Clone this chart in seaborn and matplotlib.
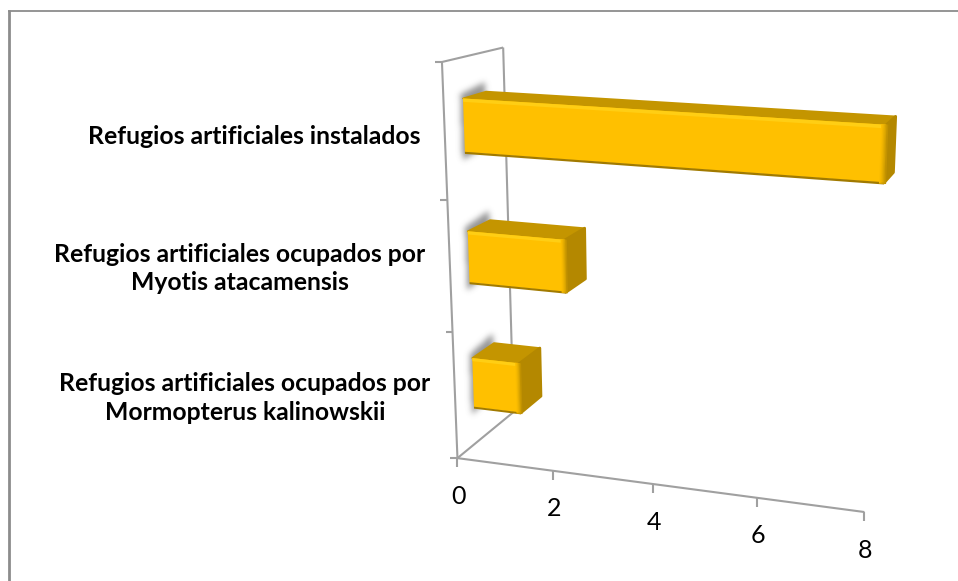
import numpy as np
import matplotlib
matplotlib.use("Agg")
import matplotlib.pyplot as plt
import matplotlib.transforms as mtransforms
from matplotlib.patches import Polygon
from matplotlib.path import Path
import seaborn as sns

# Chart content
categories = ["Refugios artificiales instalados",
              "Refugios artificiales ocupados por\nMyotis atacamensis",
              "Refugios artificiales ocupados por\nMormopterus kalinowskii"]
values = [8, 2, 1]
x_ticks = [0, 2, 4, 6, 8]

# Canvas and look
W, H = 958, 581
FRONT, TOP, SIDE = "#FFC000", "#C49500", "#B48800"
GRID = "#A0A0A0"
FRAME = "#8C8C8C"
BAR_Z = (0.30, 0.68)

# Perspective camera: corners of the plot box (value, category, depth) -> pixels
box_world = np.array([(0, 2.5, 0), (8, 2.5, 0), (0, -0.5, 0), (8, -0.5, 0),
                      (0, 2.5, 1), (8, 2.5, 1), (0, -0.5, 1), (8, -0.5, 1)], float)
box_pixel = np.array([(457, 459), (864, 511), (442, 65), (881, 83),
                      (514, 411), (889, 459), (503, 45), (904, 71)], float)


def fit_camera(world, pixel):
    rows = []
    for (x, y, z), (u, v) in zip(world, pixel):
        p = [x, y, z, 1]
        rows.append(p + [0, 0, 0, 0] + [-u * c for c in p])
        rows.append([0, 0, 0, 0] + p + [-v * c for c in p])
    return np.linalg.svd(np.array(rows))[2][-1].reshape(3, 4)


CAMERA = fit_camera(box_world, box_pixel)


def project(x, y, z):
    q = CAMERA @ np.array([x, y, z, 1.0])
    return q[0] / q[2], q[1] / q[2]


class DepthPlane(mtransforms.Transform):
    """Maps (value, category) at a fixed depth to display pixels."""
    input_dims = output_dims = 2
    is_separable = False

    def __init__(self, z):
        super().__init__()
        self.z = z

    def transform_non_affine(self, values):
        pts = np.asarray(values, float)
        hom = np.column_stack([pts, np.full(len(pts), self.z), np.ones(len(pts))])
        q = hom @ CAMERA.T
        return np.column_stack([q[:, 0] / q[:, 2], H - q[:, 1] / q[:, 2]])


def poly3d(ax, pts, color, zorder, **kw):
    xy = [project(*p) for p in pts]
    xy = [(u, H - v) for u, v in xy]
    ax.add_patch(Polygon(xy, closed=True, facecolor=color, transform=mtransforms.IdentityTransform(),
                         clip_on=False, zorder=zorder, **kw))


def line_px(ax, a, b, color=GRID, lw=1.5, zorder=1):
    ax.plot([a[0], b[0]], [H - a[1], H - b[1]], color=color, lw=lw, clip_on=False,
            transform=mtransforms.IdentityTransform(), zorder=zorder, solid_capstyle="butt")


def strip(ax, plane_z, x0, x1, y0, y1, color, zorder):
    poly3d(ax, [(x0, y0, plane_z), (x1, y0, plane_z), (x1, y1, plane_z), (x0, y1, plane_z)],
           color, zorder, edgecolor="none")


def blurred_shadow(polys, sigma=3.0, alpha=0.72):
    yy, xx = np.mgrid[0:H, 0:W]
    grid = np.column_stack([xx.ravel() + 0.5, yy.ravel() + 0.5])
    mask = np.zeros((H, W))
    for poly in polys:
        mask = np.maximum(mask, Path(poly).contains_points(grid).reshape(H, W).astype(float))
    r = int(3 * sigma)
    k = np.exp(-0.5 * (np.arange(-r, r + 1) / sigma) ** 2)
    k /= k.sum()
    mask = np.apply_along_axis(lambda m: np.convolve(m, k, "same"), 0, mask)
    mask = np.apply_along_axis(lambda m: np.convolve(m, k, "same"), 1, mask)
    rgba = np.zeros((H, W, 4))
    rgba[..., :3] = 0.42
    rgba[..., 3] = mask * alpha
    return rgba


sns.set_theme(style="white")
plt.rcParams["font.family"] = ["Lato", "DejaVu Sans"]

fig = plt.figure(figsize=(W / 100, H / 100), dpi=100, facecolor="white")
ax = fig.add_axes([0, 0, 1, 1])
sns.barplot(x=values, y=categories, orient="h", color=FRONT, saturation=1, width=0.4, ax=ax)
ax.set_xlim(0, 8)
ax.set_ylim(2.5, -0.5)
ax.set_axis_off()

# Outer chart frame
line_px(ax, (8, 10.5), (W, 10.5), FRAME, 1.3)
line_px(ax, (9, 10), (9, H), FRAME, 2.0)

# Wall and floor outlines
y_low, y_high = 2.5, -0.5
line_px(ax, project(0, y_high, 0), project(0, y_low, 0))
line_px(ax, project(0, y_high, 0), project(0, y_high, 1))
line_px(ax, project(0, y_high, 1), project(0, y_low, 1))
line_px(ax, project(0, y_low, 0), project(0, y_low, 1))
line_px(ax, project(0, y_low, 0), project(8, y_low, 0))

# Tick marks and value labels
for t in x_ticks:
    u, v = project(t, y_low, 0)
    line_px(ax, (u, v), (u, v + 9))
    ax.text((u + 1) / W, 1 - (v + 38) / H, str(t), transform=fig.transFigure,
            ha="center", va="center", fontsize=18, color="black")
for c in [-0.5, 0.5, 1.5, 2.5]:
    u, v = project(0, c, 0)
    line_px(ax, (u - 7, v), (u, v))

# Category labels
label_anchor = [(254, 137), (240, 268.5), (245, 398)]
for name, (u, v) in zip(categories, label_anchor):
    ax.text(u / W, 1 - v / H, name, transform=fig.transFigure, ha="center", va="center",
            fontsize=17.8, fontweight="bold", color="black", linespacing=1.3)

# Bars: faces, bevels and the soft shadow cast on the side wall
zf, zb = BAR_Z
shadow_polys = []
front_plane = DepthPlane(zf)
for bar in list(ax.patches):
    x0, x1 = bar.get_x(), bar.get_x() + bar.get_width()
    y0, y1 = bar.get_y(), bar.get_y() + bar.get_height()
    bar.set_transform(front_plane)
    bar.set_clip_on(False)
    bar.set_linewidth(0)
    bar.set_zorder(4)

    shadow_polys.append([project(-0.05, y0 - 0.03, zf), project(-0.05, y0 - 0.07, zb + 0.03),
                         project(-0.05, y1 + 0.02, zb + 0.03), project(-0.05, y1 + 0.06, zf)])

    poly3d(ax, [(x0, y0, zf), (x1, y0, zf), (x1, y0, zb), (x0, y0, zb)], TOP, 3,
           edgecolor=TOP, lw=1.2, joinstyle="round")
    poly3d(ax, [(x1, y0, zf), (x1, y0, zb), (x1, y1, zb), (x1, y1, zf)], SIDE, 3,
           edgecolor=SIDE, lw=2.0, joinstyle="round")
    strip(ax, zf, x0, x1, y0, y0 + 0.025, "#FFCE14", 5)
    strip(ax, zf, x0, x1, y1 - 0.004, y1 + 0.012, "#A17A00", 5)
    # soft roll-off along the right edge of the front face
    edge_steps = [("#FBBD00", -0.09), ("#F3B700", -0.07), ("#E8AF00", -0.05),
                  ("#DBA600", -0.03), ("#CE9C00", -0.01), ("#C29200", 0.01)]
    for shade, offset in edge_steps:
        strip(ax, zf, x1 + offset, x1 + offset + 0.025, y0 - 0.002, y1 + 0.008, shade, 5)

fig.figimage(blurred_shadow(shadow_polys), zorder=-1, origin="upper")

fig.savefig("out.png", dpi=100, facecolor="white")
